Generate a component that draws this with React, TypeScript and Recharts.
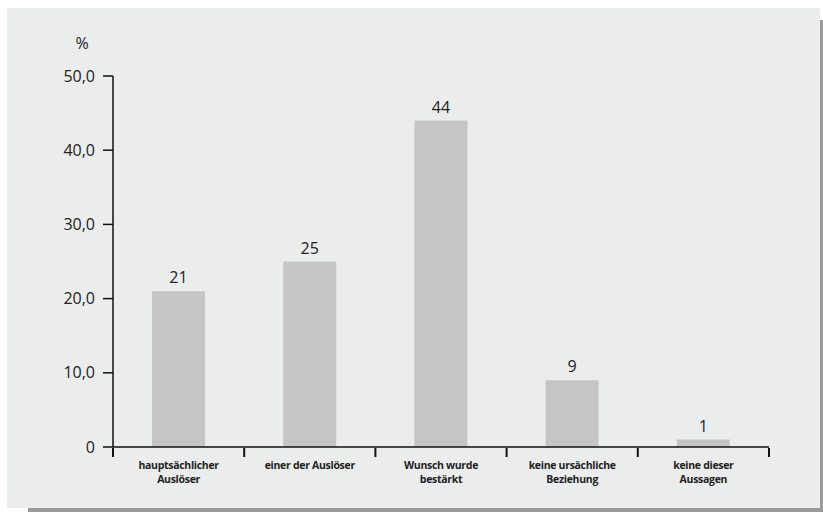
import { BarChart, Bar, XAxis, YAxis, LabelList } from "recharts"

const categories = [
  ["hauptsächlicher", "Auslöser"],
  ["einer der Auslöser"],
  ["Wunsch wurde", "bestärkt"],
  ["keine ursächliche", "Beziehung"],
  ["keine dieser", "Aussagen"],
]
const values = [21, 25, 44, 9, 1]
const yTicks = [0, 10, 20, 30, 40, 50]

const data = categories.map((lines, i) => ({ name: lines.join(" "), lines, value: values[i] }))

const font = "'Open Sans', sans-serif"

function CategoryTick(props: any) {
  const { x, y, payload, index } = props
  const half = payload.offset || 65.6
  const lines = data[index] ? data[index].lines : [payload.value]
  const last = index === data.length - 1
  return (
    <g>
      <line x1={x - half} x2={x - half} y1={y - 1} y2={y + 8} stroke="#111" strokeWidth={2} />
      {last && <line x1={x + half} x2={x + half} y1={y - 1} y2={y + 8} stroke="#111" strokeWidth={2} />}
      {lines.map((t: string, i: number) => (
        <text key={i} x={x} y={y + 20 + i * 14} textAnchor="middle" fontSize={10.5} fontWeight="bold"
          fill="#222" fontFamily={font} letterSpacing={-0.3}>
          {t}
        </text>
      ))}
    </g>
  )
}

export default function App() {
  return (
    <div style={{ position: "absolute", left: 0, top: 0, width: 823, height: 512, background: "#fff" }}>
      <div style={{ position: "absolute", left: 28, top: 20, width: 795, height: 492, background: "#9a9a9a" }} />
      <div style={{ position: "absolute", left: 7, top: 8, width: 813, height: 500, background: "#ebecec" }} />
      <div style={{ position: "absolute", left: 0, top: 0 }}>
        <BarChart width={823} height={512} data={data} margin={{ top: 76, right: 54, bottom: 0, left: 0 }}>
          <text x={82} y={49} textAnchor="middle" fontSize={16} fill="#222" fontFamily={font}>%</text>
          <YAxis
            domain={[0, 50]}
            ticks={yTicks}
            width={113}
            tickSize={10}
            tickMargin={8}
            axisLine={{ stroke: "#111", strokeWidth: 1.5 }}
            tickLine={{ stroke: "#111", strokeWidth: 1.5 }}
            tick={{ fontSize: 16, fill: "#222", fontFamily: font }}
            tickFormatter={(v: number) => (v === 0 ? "0" : v.toFixed(1).replace(".", ","))}
          />
          <XAxis
            dataKey="name"
            axisLine={{ stroke: "#111", strokeWidth: 1.5 }}
            tickLine={false}
            tickSize={0}
            interval={0}
            height={65}
            tick={<CategoryTick />}
          />
          <Bar dataKey="value" fill="#c5c5c5" barSize={53} isAnimationActive={false}>
            <LabelList dataKey="value" position="top" offset={8} fontSize={16} fill="#222" fontFamily={font} />
          </Bar>
        </BarChart>
      </div>
    </div>
  )
}
